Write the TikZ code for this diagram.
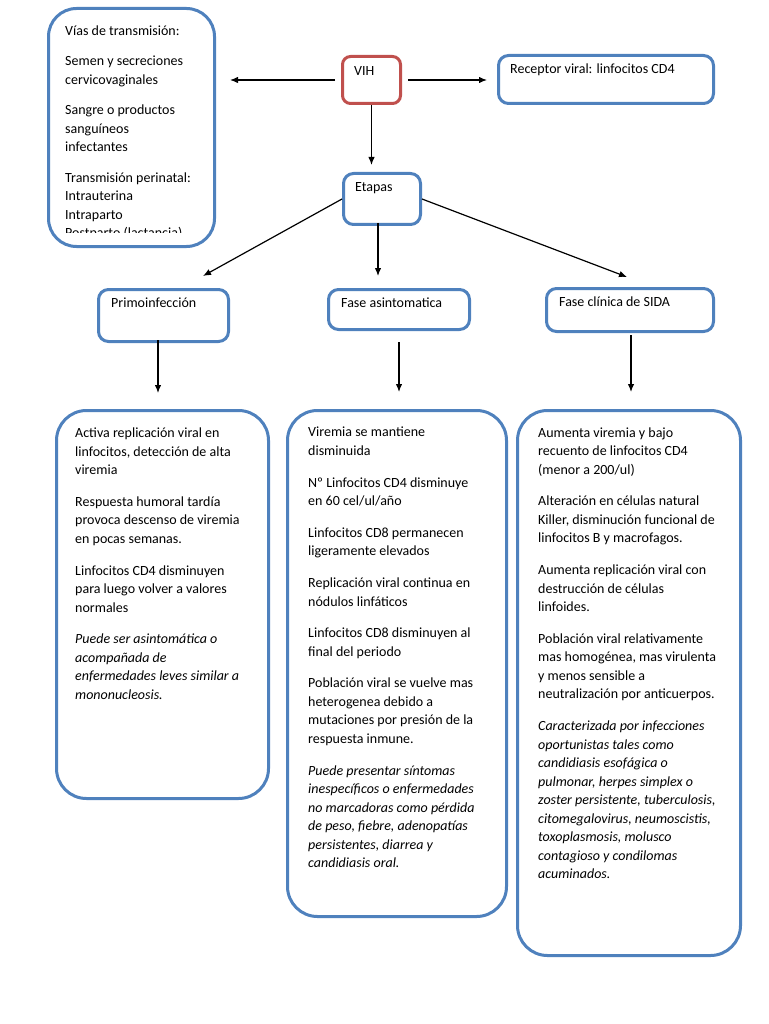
\documentclass[tikz,border=0pt]{standalone}
\usepackage{fontspec}
\setmainfont{Carlito}
\usetikzlibrary{arrows.meta}
\definecolor{boxblue}{HTML}{4F81BD}
\definecolor{boxred}{HTML}{C0504D}
\newcommand{\topstrut}{\rule{0pt}{12pt}}
\newcommand{\il}{\itshape}
\begin{document}
\begin{tikzpicture}[x=1pt,y=-1pt,
  box/.style={draw=boxblue, line width=3pt, rounded corners=#1, fill=white, inner sep=0pt, anchor=north west},
  box/.default=12pt,
  redbox/.style={draw=boxred, line width=3pt, rounded corners=#1, fill=white, inner sep=0pt, anchor=north west},
  redbox/.default=8pt,
  txt/.style={anchor=base west, inner sep=0pt, align=left, font=\fontsize{14}{18.5}\selectfont},
  txtm/.style={anchor=north west, inner sep=0pt, align=left, font=\fontsize{14}{18.5}\selectfont},
  arr/.style={-{Latex[length=8pt,width=6.5pt]}, line width=1.2pt, black}]
\useasboundingbox (0,0) rectangle (768,1024);

% boxes
\node[box=28pt, minimum width=166pt, minimum height=238pt] (vias) at (47,7) {};
\node[redbox=8pt, minimum width=58pt, minimum height=47pt] (vih) at (341,55) {};
\node[box=10pt, minimum width=215pt, minimum height=48pt] (recep) at (497,54) {};
\node[box=10pt, minimum width=77pt, minimum height=51pt] (etapas) at (342,172) {};
\node[box=10pt, minimum width=130pt, minimum height=52pt] (primo) at (97,288) {};
\node[box=10pt, minimum width=141pt, minimum height=40pt] (asint) at (327,288) {};
\node[box=10pt, minimum width=167pt, minimum height=43pt] (clin) at (545,287) {};
\node[box=30pt, minimum width=212pt, minimum height=388pt] (b1) at (55,409) {};
\node[box=30pt, minimum width=219pt, minimum height=506pt] (b2) at (286,409) {};
\node[box=30pt, minimum width=223pt, minimum height=545pt] (b3) at (516,409) {};

% texts (multi-line nodes: top at first baseline - 12)
\begin{scope}
\clip (47,7) rectangle (213,233);
\node[txtm] (tvias) at (65,23) {\topstrut V\'ias de transmisi\'on:\\[12pt]
Semen y secreciones\\ cervicovaginales\\[12pt]
Sangre o productos\\ sangu\'ineos\\ infectantes\\[12pt]
Transmisi\'on perinatal:\\ Intrauterina\\ Intraparto\\ Postparto (lactancia)};
\end{scope}
\node[txt] (tvih) at (354,76) {VIH};
\node[txt] (trecep) at (510,74) {Receptor viral: linfocitos CD4};
\node[txt] (tetapas) at (355,192) {Etapas};
\node[txt] (tprimo) at (111,307) {Primoinfecci\'on};
\node[txt] (tasint) at (341,307) {Fase asintomatica};
\node[txt] (tclin) at (559,306) {Fase cl\'inica de SIDA};

\node[txtm] (tb1) at (75,425.5) {\topstrut Activa replicaci\'on viral en\\ linfocitos, detecci\'on de alta\\ viremia\\[13.2pt]
Respuesta humoral tard\'ia\\ provoca descenso de viremia\\ en pocas semanas.\\[13.2pt]
Linfocitos CD4 disminuyen\\ para luego volver a valores\\ normales\\[13.2pt]
\il Puede ser asintom\'atica o\\ \il acompa\~nada de\\ \il enfermedades leves similar a\\ \il mononucleosis.};

\node[txtm] (tb2) at (308,424.7) {\topstrut Viremia se mantiene\\ disminuida\\[13.2pt]
Nº Linfocitos CD4 disminuye\\ en 60 cel/ul/a\~no\\[13.2pt]
Linfocitos CD8 permanecen\\ ligeramente elevados\\[13.2pt]
Replicaci\'on viral continua en\\ n\'odulos linf\'aticos\\[13.2pt]
Linfocitos CD8 disminuyen al\\ final del periodo\\[13.2pt]
Poblaci\'on viral se vuelve mas\\ heterogenea debido a\\ mutaciones por presi\'on de la\\ respuesta inmune.\\[13.2pt]
\il Puede presentar s\'intomas\\ \il inespec\'ificos o enfermedades\\ \il no marcadoras como p\'erdida\\ \il de peso, fiebre, adenopat\'ias\\ \il persistentes, diarrea y\\ \il candidiasis oral.};

\node[txtm] (tb3) at (538,425) {\topstrut Aumenta viremia y bajo\\ recuento de linfocitos CD4\\ (menor a 200/ul)\\[13.2pt]
Alteraci\'on en c\'elulas natural\\ Killer, disminuci\'on funcional de\\ linfocitos B y macrofagos.\\[13.2pt]
Aumenta replicaci\'on viral con\\ destrucci\'on de c\'elulas\\ linfoides.\\[13.2pt]
Poblaci\'on viral relativamente\\ mas homog\'enea, mas virulenta\\ y menos sensible a\\ neutralizaci\'on por anticuerpos.\\[13.2pt]
\il Caracterizada por infecciones\\ \il oportunistas tales como\\ \il candidiasis esof\'agica o\\ \il pulmonar, herpes simplex o\\ \il zoster persistente, tuberculosis,\\ \il citomegalovirus, neumoscistis,\\ \il toxoplasmosis, molusco\\ \il contagioso y condilomas\\ \il acuminados.};

% connector ends
\coordinate (eP) at (203,276);
\coordinate (eA) at (378,276);
\coordinate (eC) at (627,277);
\coordinate (sA) at (378,223);
\coordinate (s1) at (158,340);
\coordinate (e1) at (158,393);
\coordinate (s3) at (631,335);
\coordinate (e3) at (631,392);

% connectors
\draw[arr, shorten <=6pt, shorten >=14pt] (vih.west) -- (vih.west -| vias.east);
\draw[arr, shorten <=6pt, shorten >=10pt] (vih.east) -- (vih.east -| recep.west);
\draw[arr, shorten >=7pt] (vih.south) -- (vih.south |- etapas.north);
\draw[arr] (etapas.west) -- (eP);
\draw[arr] (sA) -- (eA);
\draw[arr] (etapas.east) -- (eC);
\draw[arr] (s1) -- (e1);
\draw[arr, shorten <=11pt, shorten >=17pt] (asint.south) -- (asint.south |- b2.north);
\draw[arr] (s3) -- (e3);
\end{tikzpicture}
\end{document}
